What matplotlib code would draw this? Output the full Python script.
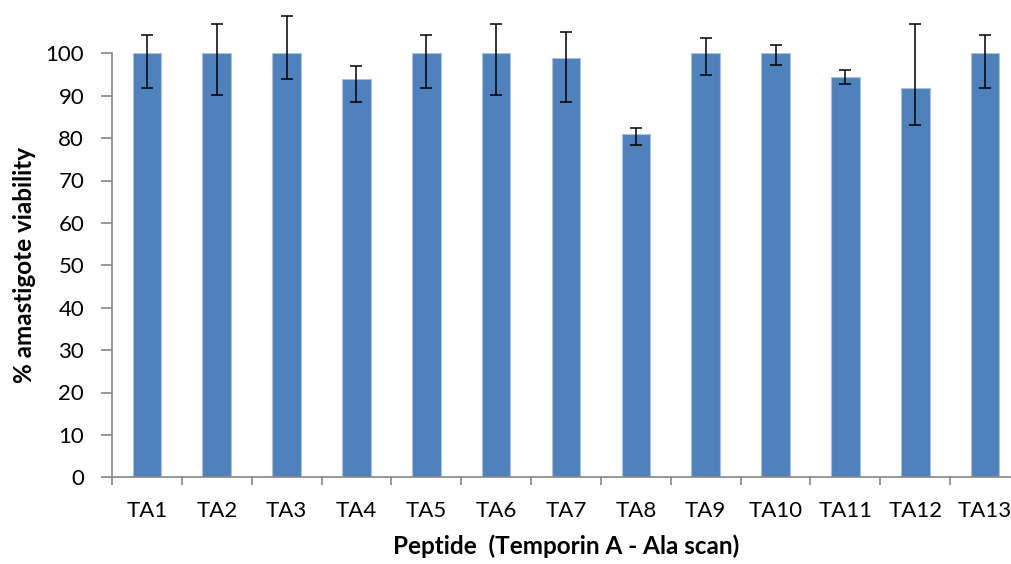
import matplotlib
matplotlib.use("Agg")
import matplotlib.pyplot as plt
import numpy as np

plt.rcParams['font.family'] = ['Lato', 'DejaVu Sans']

peptides = ["TA1", "TA2", "TA3", "TA4", "TA5", "TA6", "TA7",
            "TA8", "TA9", "TA10", "TA11", "TA12", "TA13"]
viability = [100, 100, 100, 93.9, 100, 100, 98.8,
             80.9, 100, 100, 94.3, 91.7, 100]
err_upper = [104.2, 106.8, 108.9, 96.9, 104.2, 106.8, 105.0,
             82.5, 103.7, 101.9, 96.1, 106.8, 104.3]
err_lower = [91.9, 90.2, 93.9, 88.4, 91.9, 90.2, 88.4,
             78.3, 94.9, 97.2, 92.8, 83.2, 91.9]
y_ticks = [0, 10, 20, 30, 40, 50, 60, 70, 80, 90, 100]

W, H = 1011, 564
fig = plt.figure(figsize=(W / 100, H / 100), dpi=100)
left, right, bottom, top = 112, 1020, 86.7, 510.7
ax = fig.add_axes([left / W, bottom / H, (right - left) / W, (top - bottom) / H])

x = np.arange(len(peptides))
vals = np.array(viability)
yerr = np.vstack([vals - np.array(err_lower), np.array(err_upper) - vals])

ax.bar(x, vals, width=0.41, color="#4f81bd", edgecolor="#a9c1df", linewidth=0.8, zorder=2)
ax.errorbar(x, vals, yerr=yerr, fmt="none", ecolor="black", elinewidth=1.1,
            capsize=4.3, capthick=1.1, zorder=3, clip_on=False)

ax.set_xlim(-0.5, len(peptides) - 0.5)
ax.set_ylim(0, 100)
ax.set_yticks(y_ticks)
ax.set_xticks(x)
ax.set_xticklabels(peptides)
ax.set_xticks(np.arange(len(peptides) + 1) - 0.5, minor=True)

spine_col = "#868686"
for s in ["top", "right"]:
    ax.spines[s].set_visible(False)
for s in ["left", "bottom"]:
    ax.spines[s].set_color(spine_col)
    ax.spines[s].set_linewidth(1.2)

ax.tick_params(axis="y", direction="out", length=8, width=1.2, color=spine_col,
               labelsize=16, pad=12, labelcolor="black")
ax.tick_params(axis="x", which="major", length=0, labelsize=16, pad=17, labelcolor="black")
ax.tick_params(axis="x", which="minor", direction="out", length=6, width=1.2, color=spine_col)

ax.set_ylabel("% amastigote viability", fontsize=17.5, fontweight="bold", labelpad=7)
ax.set_xlabel("Peptide  (Temporin A - Ala scan)", fontsize=17.5, fontweight="bold", labelpad=10)

fig.savefig("out.png", dpi=100)
